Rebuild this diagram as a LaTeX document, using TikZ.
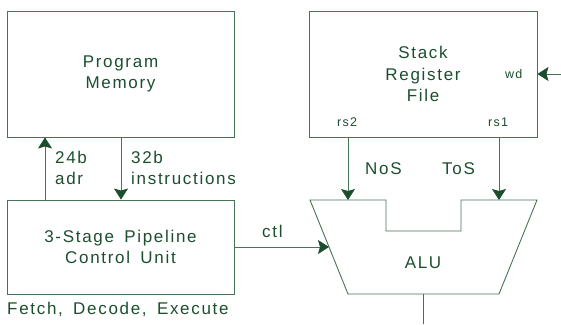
\documentclass[tikz,border=0pt]{standalone}
\usepackage{fontspec}
\setmainfont{Liberation Sans}[LetterSpace=10,WordSpace=1.6]
\usetikzlibrary{arrows.meta,calc}
\definecolor{ink}{RGB}{28,78,46}
\definecolor{wire}{RGB}{70,115,85}
\begin{document}
\begin{tikzpicture}[x=1pt,y=-1pt,
  every node/.style={text=ink, font=\fontsize{17}{21.5}\selectfont, inner sep=0pt},
  block/.style={draw=wire, line width=0.9pt, align=center},
  small/.style={font=\fontsize{12.5}{14}\selectfont},
  wirestyle/.style={draw=wire, line width=0.9pt},
  arr/.style={wirestyle, -{Stealth[length=11pt,width=14pt,inset=2pt,color=ink,fill=ink]}}]
\useasboundingbox (0,0) rectangle (561,324);

% blocks
\node[block, minimum width=227pt, minimum height=126pt] (pm) at (120.5,74) {Program\\Memory};
\node[block, minimum width=227pt, minimum height=94pt] (cu) at (120.5,247) {3-Stage Pipeline\\Control Unit};
\node[block, minimum width=228pt, minimum height=126pt] (rf) at (423,74) {Stack\\Register\\File};
\node[anchor=base west] (fde) at (7,314) {Fetch, Decode, Execute};

% ALU outline
\coordinate (a1) at (310,200);
\coordinate (a2) at (386,200);
\coordinate (a3) at (386,231);
\coordinate (a4) at (461,231);
\coordinate (a5) at (461,200);
\coordinate (a6) at (537,200);
\coordinate (a7) at (499,294);
\coordinate (a8) at (348,294);
\draw[wirestyle] (a1)--(a2)--(a3)--(a4)--(a5)--(a6)--(a7)--(a8)--cycle;
\node (alu) at (423,263) {ALU};

% port labels of the register file
\node[small, anchor=base west] (rs2) at (337,126) {rs2};
\node[small, anchor=base west] (rs1) at (488,126) {rs1};
\node[small, anchor=base west] (wd) at (505,78) {wd};

% address and instruction buses
\coordinate (adrx) at (45,0);
\coordinate (insx) at (121,0);
\draw[arr] (cu.north -| adrx) -- (pm.south -| adrx);
\draw[arr] (pm.south -| insx) -- (cu.north -| insx);
\node[anchor=base west] (l24) at (55,163) {24b};
\node[anchor=base west] (ladr) at (55,184) {adr};
\node[anchor=base west] (l32) at (131,163) {32b};
\node[anchor=base west] (lins) at (131,184) {instructions};

% operand paths into the ALU
\coordinate (nos) at (348,200);
\coordinate (tos) at (499,200);
\draw[arr] (rf.south -| nos) -- (nos);
\draw[arr] (rf.south -| tos) -- (tos);
\node[anchor=base west] (lnos) at (365,174) {NoS};
\node[anchor=base west] (ltos) at (442,174) {ToS};

% control into the ALU
\coordinate (ctlin) at (329,247);
\draw[arr] (cu.east) -- (ctlin);
\node[anchor=base west] (lctl) at (262,237) {ctl};

% write data into the register file
\coordinate (wdsrc) at (561,74);
\draw[arr] (wdsrc) -- (rf.east);

% ALU result
\coordinate (aluout) at (423,294);
\coordinate (outend) at (423,324);
\draw[wirestyle] (aluout) -- (outend);
\end{tikzpicture}
\end{document}
